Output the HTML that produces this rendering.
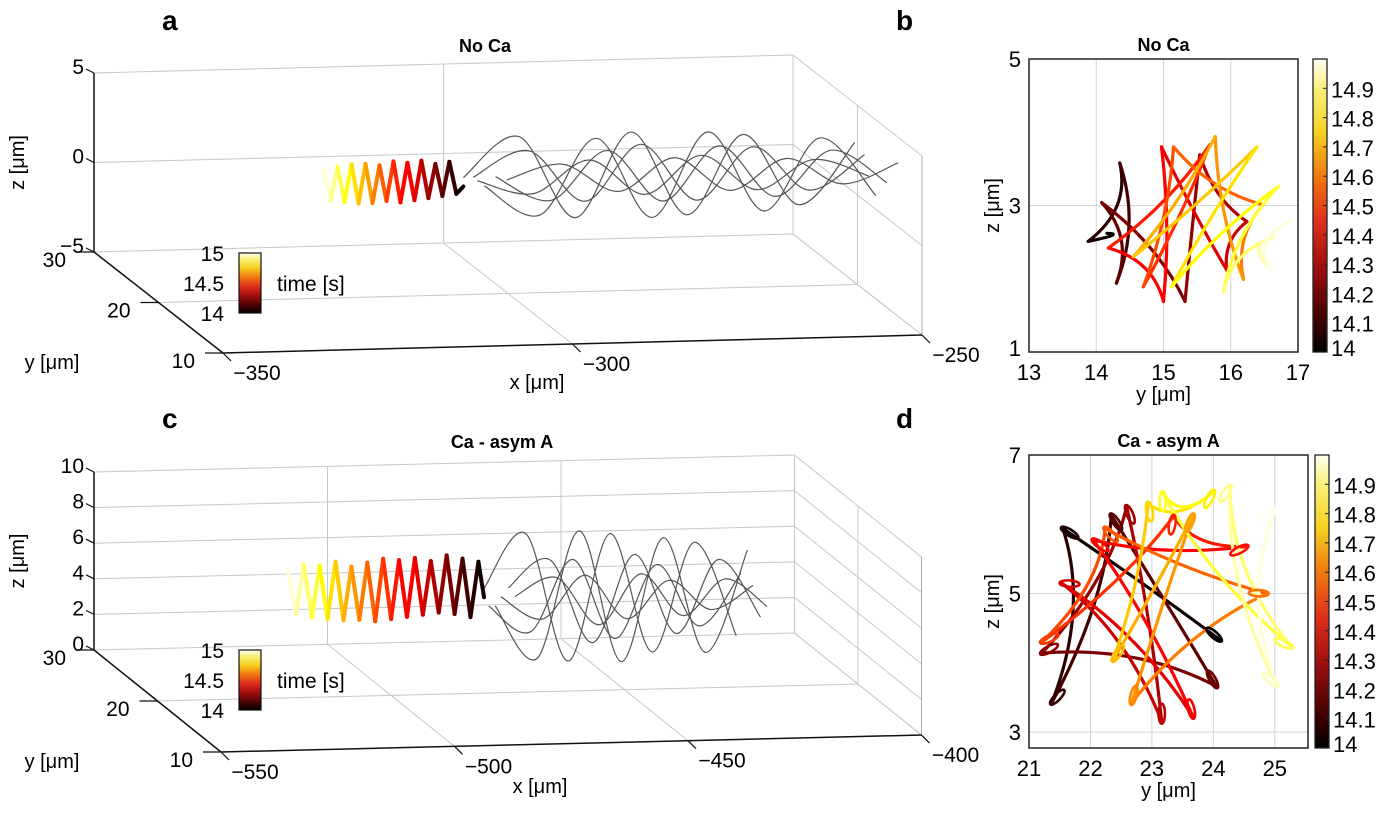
<!DOCTYPE html>
<html><head><meta charset="utf-8"><style>
html,body{margin:0;padding:0;background:#fff;}
svg{display:block;font-family:"Liberation Sans",Arial,sans-serif;}
</style></head><body>
<svg id="fig" width="1384" height="813" viewBox="0 0 1384 813">
<defs>
<linearGradient id="hotv" x1="0" y1="1" x2="0" y2="0">
<stop offset="0" stop-color="#000"/><stop offset="0.1" stop-color="#3a0000"/><stop offset="0.3" stop-color="#a51010"/><stop offset="0.45" stop-color="#e0301c"/><stop offset="0.6" stop-color="#f07a10"/><stop offset="0.75" stop-color="#f5d020"/><stop offset="0.9" stop-color="#f8f07a"/><stop offset="1" stop-color="#fffff5"/>
</linearGradient>
</defs>
<g id="ga"></g>
<g id="gb"></g>
<g id="gc"></g>
<g id="gd"></g>
<text x="162" y="30" font-size="28" font-weight="bold">a</text>
<text x="896" y="30" font-size="28" font-weight="bold">b</text>
<text x="162" y="428" font-size="28" font-weight="bold">c</text>
<text x="896" y="428" font-size="28" font-weight="bold">d</text>
</svg>
<script>
// ---------- data ----------
const aHelixX = [-331,-330,-329,-328,-327,-326,-325,-324,-323,-322,-321,-320,-319,-318,-317,-316,-315,-314,-313,-312,-311];
const aHelixZ = [3.6,1.9,3.8,1.8,3.9,1.7,3.9,1.7,3.8,1.8,4.0,1.7,3.9,1.8,4.0,1.9,3.8,2.0,3.9,2.1,2.5];
const aGreyX = [-311,-303,-295,-287,-279,-271,-263,-255];
const aGreyShift = [0,3.0,1.4,4.6,6.2,2.0];
const aGrey1 = [3.0,5.2,0.6,5.3,0.6,5.0,1.0,4.4];
const aGrey2 = [2.5,0.8,5.0,0.5,5.2,0.7,4.7,1.4];
const aGrey3 = [3.0,4.4,1.5,4.6,1.4,4.3,1.8,3.7];
const aGrey4 = [3.0,1.6,4.3,1.4,4.4,1.5,4.0,2.1];
const aGrey5 = [2.8,3.6,2.0,3.8,1.9,3.6,2.1,3.2];
const aGrey6 = [2.8,2.0,3.8,1.8,3.9,1.9,3.5,2.5];
const aZTicks = [-5,0,5];
const aXTicks = [-350,-300,-250];
const aYTicks = [10,20,30];
const cHelixX = [-518,-516.3,-514.6,-512.9,-511.2,-509.5,-507.8,-506.1,-504.4,-502.7,-501,-499.3,-497.6,-495.9,-494.2,-492.5,-490.8,-489.1,-487.4,-485.7,-484,-482.3,-480.6,-478.9,-477.2,-476];
const cHelixZ = [6.3,3.8,6.6,3.6,6.5,3.5,6.7,3.4,6.4,3.4,6.6,3.3,6.8,3.4,6.7,3.5,6.8,3.6,6.6,3.7,6.9,3.6,6.7,3.4,6.5,4.5];
const cGreyX = [-476,-467,-458,-449,-440,-431,-422];
const cGreyShift = [0,2.4,5.2,1.0,6.6,3.6];
const cGrey1 = [5,8,0.8,7.9,1.2,7.3,2.0];
const cGrey2 = [4,1,8.1,0.7,7.6,1.1,6.8];
const cGrey3 = [5,6.5,1.8,6.7,2.2,6.3,3.0];
const cGrey4 = [4,2.5,6.5,2.0,6.1,2.6,5.5];
const cGrey5 = [4.5,5.5,2.8,5.6,3.2,5.2,3.6];
const cGrey6 = [4.5,3.2,5.6,3.1,5.2,3.5,4.8];
const cZTicks = [0,2,4,6,8,10];
const cXTicks = [-550,-500,-450,-400];
const cYTicks = [10,20,30];
const bCuspY = [14.16,13.88,14.35,14.30,14.08,15.32,15.54,16.24,15.94,14.97,15.0,14.18,15.69,14.70,15.15,16.48,16.19,15.77,14.55,16.39,15.12,16.71,15.89,16.63,16.56,16.91];
const bCuspZ = [2.62,2.51,3.58,1.94,3.04,1.69,3.69,2.78,2.12,3.80,1.69,2.42,3.83,1.89,3.80,3.01,1.99,3.94,2.30,3.80,1.89,3.26,1.82,2.57,2.16,2.80];
const dCuspY = [24.11,21.55,21.37,22.34,24.05,21.21,22.59,23.16,21.53,23.67,22.05,24.54,23.35,21.21,22.24,24.87,22.67,23.67,22.37,22.94,24.0,23.18,25.27,24.27,25.03,25.0];
const dCuspZ = [4.33,5.94,3.42,6.13,3.66,4.14,6.25,3.15,5.15,3.22,5.77,5.68,6.11,4.30,5.94,5.0,3.42,6.13,4.04,6.30,6.47,6.45,4.23,6.54,3.68,6.21];
const cbTicks = [14,14.1,14.2,14.3,14.4,14.5,14.6,14.7,14.8,14.9];

// ---------- helpers ----------
const NS="http://www.w3.org/2000/svg";
function mk(parent,tag,attrs){const e=document.createElementNS(NS,tag);for(const k in attrs)e.setAttribute(k,attrs[k]);parent.appendChild(e);return e;}
function clamp(v){return Math.max(0,Math.min(1,v));}
function hot(t){const f=clamp(t-14);const r=clamp(f/0.38),g=clamp((f-0.42)/0.4),b=clamp((f-0.82)/0.18);
return `rgb(${Math.round(255*r)},${Math.round(235*g+20*g*g)},${Math.round(240*b)})`;}
function smooth(pts){let d=`M${pts[0][0]},${pts[0][1]}`;for(let i=0;i<pts.length-1;i++){const p0=pts[Math.max(0,i-1)],p1=pts[i],p2=pts[i+1],p3=pts[Math.min(pts.length-1,i+2)];
d+=` C${p1[0]+(p2[0]-p0[0])/6},${p1[1]+(p2[1]-p0[1])/6} ${p2[0]-(p3[0]-p1[0])/6},${p2[1]-(p3[1]-p1[1])/6} ${p2[0]},${p2[1]}`;}return d;}
function txt(g,x,y,s,size,anchor,extra){const t=mk(g,'text',Object.assign({x:x,y:y,'font-size':size,'text-anchor':anchor||'start'},extra||{}));t.textContent=s;return t;}

// ---------- 3D panels ----------
function panel3d(g,P,title,helixX,helixZ,helixY,greys,greyX,greyShift,zT,xT,yT){
  const proj=(x,y,z)=>[P.ox+(x-P.x0)*P.exx+(y-P.y0)*P.eyx, P.oy+(x-P.x0)*P.exy+(y-P.y0)*P.eyy-(z-P.z0)*P.ez];
  const line=(a,b,stroke,w,name)=>{const l=mk(g,'line',{x1:a[0],y1:a[1],x2:b[0],y2:b[1],stroke:stroke,'stroke-width':w});
    
    return l;};
  const X0=xT[0],X1=xT[xT.length-1],Y0=yT[0],Y1=yT[yT.length-1],Z0=zT[0],Z1=zT[zT.length-1],Ym=yT[1];
  const gc='#c8c8c8';
  zT.forEach(z=>line(proj(X0,Y1,z),proj(X1,Y1,z),gc,1,'grid-line'));
  xT.forEach(x=>line(proj(x,Y1,Z0),proj(x,Y1,Z1),gc,1,'grid-line'));
  line(proj(X0,Ym,Z0),proj(X1,Ym,Z0),gc,1,'grid-line');
  xT.forEach(x=>line(proj(x,Y0,Z0),proj(x,Y1,Z0),gc,1,'grid-line'));
  zT.forEach(z=>line(proj(X1,Y0,z),proj(X1,Y1,z),gc,1,'grid-line'));
  line(proj(X1,Ym,Z0),proj(X1,Ym,Z1),gc,1,'grid-line');
  line(proj(X1,Y0,Z0),proj(X1,Y0,Z1),'#aaa',1,'box-edge');
  line(proj(X0,Y1,Z0),proj(X0,Y1,Z1),'#111',1.5,'z-axis');
  line(proj(X0,Y0,Z0),proj(X0,Y1,Z0),'#111',1.5,'y-axis');
  line(proj(X0,Y0,Z0),proj(X1,Y0,Z0),'#111',1.5,'x-axis');
  zT.forEach(z=>{const p=proj(X0,Y1,z);line([p[0]-8,p[1]-4],p,'#111',1.2,'z-tick');
    const t=txt(g,p[0]-10,p[1]+1,String(z).replace('-','\u2212'),21,'end');
    
    });
  yT.forEach(y=>{const p=proj(X0,y,Z0);line([p[0]-18,p[1]],p,'#111',1.2,'y-tick');
    const t=txt(g,p[0]-28,p[1]+15,String(y),21,'end');
    
    });
  xT.forEach(x=>{const p=proj(x,Y0,Z0);line(p,[p[0]+8,p[1]+8],'#111',1.2,'x-tick');
    const t=txt(g,p[0]+34,p[1]+27,String(x).replace('-','\u2212'),21,'middle');
    
    });
  const zp=proj(X0,Y1,(Z0+Z1)/2);
  const zl=txt(g,0,0,'z [\u03bcm]',20,'middle',{transform:`translate(24,${zp[1]}) rotate(-90)`});
  
  
  const yp=proj(X0,Y0,Z0);
  const yl=txt(g,52,yp[1]+16,'y [\u03bcm]',20,'middle');
  
  
  const xl=txt(g,P.xlx,P.xly,'x [\u03bcm]',20,'middle');
  
  
  const tl=txt(g,P.tx,P.ty,title,18,'middle',{'font-weight':'bold'});
  
  
  greys.forEach((arr,k)=>{const pts=arr.map((z,i)=>proj(greyX[i]+greyShift[k],helixY,z));
    const p=mk(g,'path',{d:smooth(pts),fill:'none',stroke:'#555','stroke-width':1.2});
    
    });
  const n=helixX.length;
  for(let i=0;i<n-1;i++){const a=proj(helixX[i],helixY,helixZ[i]),b=proj(helixX[i+1],helixY,helixZ[i+1]);
    const t=15-(i+0.5)/(n-1);
    const l=mk(g,'line',{x1:a[0],y1:a[1],x2:b[0],y2:b[1],stroke:hot(t),'stroke-width':4,'stroke-linecap':'round'});
    
    }
  const cb=mk(g,'rect',{x:239,y:P.cbY,width:22,height:60,fill:'url(#hotv)',stroke:'#111','stroke-width':1.2});
  
  
  [['15',0],['14.5',30],['14',60]].forEach(([s,o])=>{const t=txt(g,224,P.cbY+o+8,s,21,'end');
    
    });
  const tt=txt(g,277,P.cbY+38,'time [s]',21,'start');
  
  
}
panel3d(document.getElementById('ga'),
 {x0:-350,y0:10,z0:-5,ox:223,oy:353,exx:6.99,exy:-0.18,eyx:-6.45,eyy:-5.05,ez:17.9,xlx:537,xly:389,tx:485,ty:52,cbY:253},
 'No Ca',aHelixX,aHelixZ,15,[aGrey1,aGrey2,aGrey3,aGrey4,aGrey5,aGrey6],aGreyX,aGreyShift,aZTicks,aXTicks,aYTicks);
panel3d(document.getElementById('gc'),
 {x0:-550,y0:10,z0:0,ox:221,oy:752,exx:4.67,exy:-0.113,eyx:-6.35,eyy:-5.1,ez:17.8,xlx:540,xly:793,tx:502,ty:448,cbY:650},
 'Ca - asym A',cHelixX,cHelixZ,23,[cGrey1,cGrey2,cGrey3,cGrey4,cGrey5,cGrey6],cGreyX,cGreyShift,cZTicks,cXTicks,cYTicks);

// ---------- 2D star panels ----------
function panel2d(g,P,title,cy,cz,yT,zT,loops){
  const sx=y=>P.l+(y-P.y0)*(P.r-P.l)/(P.y1-P.y0);
  const sy=z=>P.b-(z-P.z0)*(P.b-P.t)/(P.z1-P.z0);
  const bg=mk(g,'rect',{x:P.l,y:P.t,width:P.r-P.l,height:P.b-P.t,fill:'#fff'});
  
  
  yT.forEach(y=>{if(y>P.y0&&y<P.y1){const l=mk(g,'line',{x1:sx(y),y1:P.t,x2:sx(y),y2:P.b,stroke:'#d4d4d4','stroke-width':1});
    
    }
    const t=txt(g,sx(y),P.b+28,String(y),22,'middle');
    
    });
  zT.forEach(z=>{if(z>P.z0&&z<P.z1){const l=mk(g,'line',{x1:P.l,y1:sy(z),x2:P.r,y2:sy(z),stroke:'#d4d4d4','stroke-width':1});
    
    }
    const t=txt(g,P.l-8,sy(z)+(z===P.z0?4:8),String(z),22,'end');
    
    });
  const n=cy.length;
  let my=0,mz=0;cy.forEach((v,i)=>{my+=v;mz+=cz[i];});my/=n;mz/=n;
  for(let i=0;i<n-1;i++){
    const a=[sx(cy[i]),sy(cz[i])],b=[sx(cy[i+1]),sy(cz[i+1])],c=[sx(my),sy(mz)];
    const m=[(a[0]+b[0])/2,(a[1]+b[1])/2];const q=[m[0]+0.3*(c[0]-m[0]),m[1]+0.3*(c[1]-m[1])];
    const t=14+(i+0.5)/(n-1);
    const p=mk(g,'path',{d:`M${a[0]},${a[1]} Q${q[0]},${q[1]} ${b[0]},${b[1]}`,fill:'none',stroke:hot(t),'stroke-width':3.2,'stroke-linecap':'round'});
    
    
  }
  if(loops){for(let i=0;i<n;i++){const px=sx(cy[i]),pz=sy(cz[i]);const dx=px-sx(my),dz=pz-sy(mz);const L=Math.hypot(dx,dz)||1;
    const ang=Math.atan2(dz,dx)*180/Math.PI;
    const e=mk(g,'ellipse',{cx:px-dx/L*8,cy:pz-dz/L*8,rx:10,ry:3.2,fill:'none',stroke:hot(14+i/(n-1)),'stroke-width':2.6,transform:`rotate(${ang} ${px-dx/L*8} ${pz-dz/L*8})`});
    
    }}
  const fr=mk(g,'rect',{x:P.l,y:P.t,width:P.r-P.l,height:P.b-P.t,fill:'none',stroke:'#222','stroke-width':1.5});
  
  
  const cb=mk(g,'rect',{x:P.cbx,y:P.t,width:14,height:P.b-P.t,fill:'url(#hotv)',stroke:'#222','stroke-width':1.3});
  
  
  cbTicks.forEach(v=>{const y=P.b-(v-14)*(P.b-P.t)/(P.cbMax-14);
    const l=mk(g,'line',{x1:P.cbx+14,y1:y,x2:P.cbx+10,y2:y,stroke:'#222','stroke-width':1});
    
    
    const t=txt(g,P.cbx+18,y+(v===14?4:9),v.toFixed(1).replace('14.0','14'),22,'start');
    
    });
  const tl=txt(g,(P.l+P.r)/2,P.t-8,title,18,'middle',{'font-weight':'bold'});
  
  
  const yl=txt(g,(P.l+P.r)/2,P.b+49,'y [\u03bcm]',20,'middle');
  
  
  const zl=txt(g,0,0,'z [\u03bcm]',20,'middle',{transform:`translate(${P.l-30},${(P.t+P.b)/2}) rotate(-90)`});
  
  
}
panel2d(document.getElementById('gb'),{l:1029,r:1298,t:59,b:352,y0:13,y1:17,z0:1,z1:5,cbx:1313,cbMax:15.0},
 'No Ca',bCuspY,bCuspZ,[13,14,15,16,17],[1,3,5],false);
panel2d(document.getElementById('gd'),{l:1029,r:1308,t:455,b:748,y0:21,y1:25.54,z0:2.77,z1:7,cbx:1315,cbMax:15.0},
 'Ca - asym A',dCuspY,dCuspZ,[21,22,23,24,25],[3,5,7],true);
</script>
</body></html>
